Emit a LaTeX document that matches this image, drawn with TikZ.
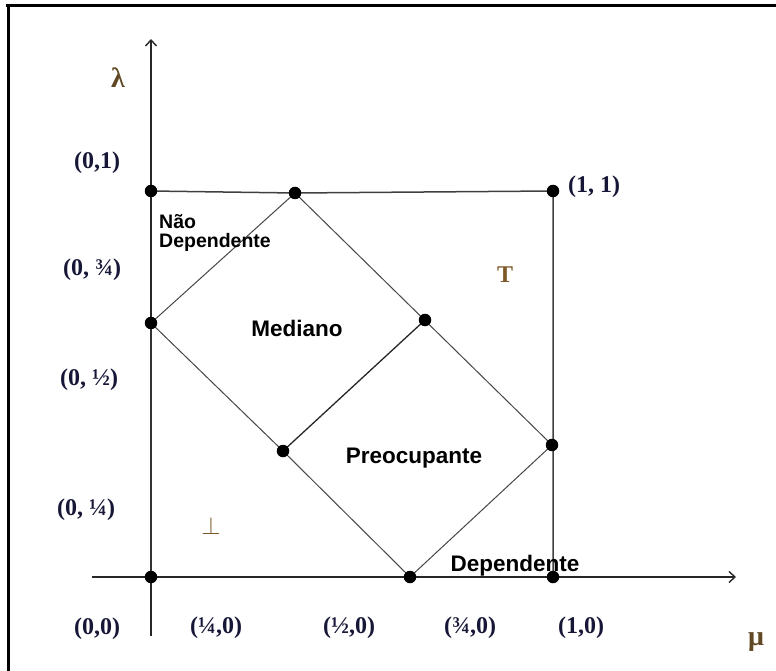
\documentclass[tikz,border=0pt]{standalone}
\usepackage{fontspec}
\setmainfont{Liberation Serif}
\newfontfamily\arial{Liberation Sans}
\usetikzlibrary{arrows.meta}
\definecolor{navy}{RGB}{22,22,55}
\definecolor{brn}{RGB}{95,72,35}
\definecolor{brn2}{RGB}{125,88,40}
\definecolor{lng}{RGB}{70,70,70}
\tikzset{
  dot/.style={circle,fill=black,inner sep=0pt,minimum size=12.5pt},
  coordlab/.style={font=\fontsize{24}{27}\selectfont\bfseries,text=navy,inner sep=0pt},
  greek/.style={font=\fontsize{28}{30}\selectfont\bfseries,text=brn,inner sep=0pt},
  region/.style={font=\arial\fontsize{22.5}{24}\selectfont\bfseries,text=black,inner sep=0pt},
  axisline/.style={line width=1.4pt,draw=black!85},
  edge/.style={line width=1pt,draw=lng},
  frameline/.style={line width=3pt,draw=black}
}
\begin{document}
\begin{tikzpicture}[x=1pt,y=-1pt]
\useasboundingbox (0,0) rectangle (776,671);
% frame (partially visible)
\draw[frameline] (6,6) -- (776,6);
\draw[frameline] (8,6) -- (8,671);
% key points
\coordinate (O) at (151,577);
\coordinate (A01) at (151,191);
\coordinate (A11) at (553,191);
\coordinate (T1) at (295,193);
\coordinate (Lh) at (151,323);
\coordinate (Mr) at (425,320);
\coordinate (Ml) at (283,451);
\coordinate (Rh) at (552,445);
\coordinate (Bh) at (410,577);
\coordinate (B1) at (553,577);
\coordinate (xs) at (92,577);
\coordinate (xe) at (736,577);
\coordinate (ys) at (151,636);
\coordinate (ye) at (151,39);
% axes
\draw[axisline,-{Straight Barb[length=6pt,width=11pt]}] (xs) -- (xe);
\draw[axisline,-{Straight Barb[length=6pt,width=11pt]}] (ys) -- (ye);
\draw[line width=2pt,draw=black!80] (Lh) -- (O);
% square
\draw[line width=1.5pt,draw=black!75] (A01) -- (T1) -- (A11) -- (B1);
% diamonds
\draw[edge] (Lh) -- (T1) -- (Rh) -- (Bh) -- (Ml) -- (Lh);
\draw[line width=1.3pt,draw=black!85] (Ml) -- (Mr);
% dots
\foreach \p in {A01,A11,T1,Lh,Mr,Ml,Rh,Bh,B1,O}
  \node[dot] (d\p) at (\p) {};
% coordinate labels
\node[coordlab] (l01) at (97,163) {(0,1)};
\node[coordlab] (l034) at (92,270) {(0, ¾)};
\node[coordlab] (l012) at (89,380) {(0, ½)};
\node[coordlab] (l014) at (86,510) {(0, ¼)};
\node[coordlab] (l00) at (97,629) {(0,0)};
\node[coordlab] (l140) at (216,628) {(¼,0)};
\node[coordlab] (l120) at (349,628) {(½,0)};
\node[coordlab] (l340) at (470,628) {(¾,0)};
\node[coordlab] (l10) at (581,628) {(1,0)};
\node[coordlab,anchor=west] (l11) at (568,187) {(1, 1)};
% greek / symbols
\node[greek] (lam) at (118,78) {λ};
\node[greek] (mu) at (756,642) {μ};
\node[font=\fontsize{24}{26}\selectfont\bfseries,text=brn2,inner sep=0pt] (top) at (505,275) {T};
\node[font=\fontsize{30}{30}\selectfont,text=brn2,inner sep=0pt] (bot) at (211,526) {$\perp$};
% regions
\node[region,align=left,anchor=north west,font=\arial\fontsize{19.5}{19}\selectfont\bfseries] (nd) at (159,214) {Não\\Dependente};
\node[region] (med) at (297,328) {Mediano};
\node[region] (pre) at (414,458) {Preocupante};
\node[region] (dep) at (515,566) {Dependente};
\end{tikzpicture}
\end{document}
